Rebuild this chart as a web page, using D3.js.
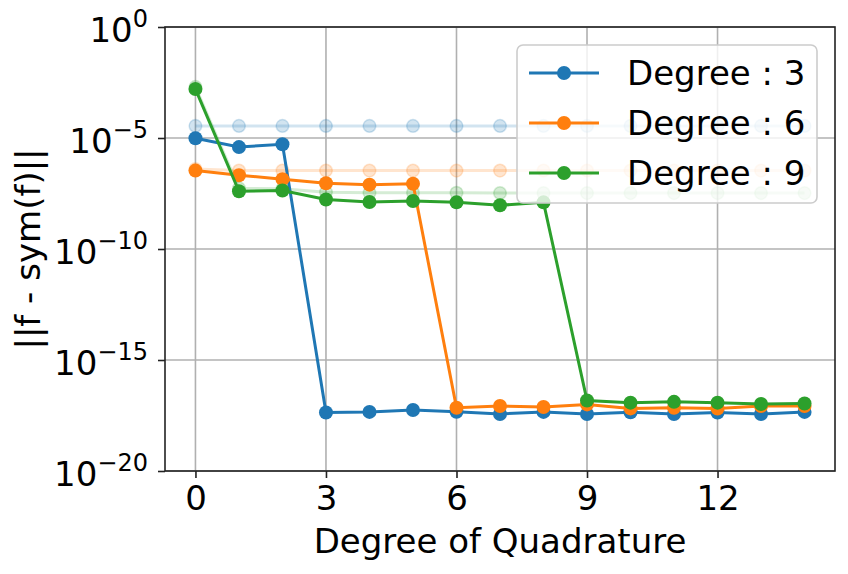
<!DOCTYPE html>
<html lang="en">
<head>
<meta charset="UTF-8">
<title>||f - sym(f)|| vs Degree of Quadrature</title>
<style>
  body { margin: 0; background: #fff; }
  text { font-family: "DejaVu Sans", sans-serif; fill: #000; }
</style>
</head>
<body>
<script src="https://d3js.org/d3.v7.min.js"></script>
<script>
// data
var quadDegrees = [0, 1, 2, 3, 4, 5, 6, 7, 8, 9, 10, 11, 12, 13, 14];
var seriesNames = ["Degree : 3", "Degree : 6", "Degree : 9"];
var seriesColors = ["#1f77b4", "#ff7f0e", "#2ca02c"];

var deg3 = [9.8e-6, 3.9e-6, 5.2e-6, 4.3e-18, 4.6e-18, 5.6e-18, 4.7e-18, 3.7e-18,
            4.6e-18, 3.7e-18, 4.4e-18, 3.7e-18, 4.3e-18, 3.7e-18, 4.6e-18];
var deg6 = [3.4e-7, 2.1e-7, 1.4e-7, 9.1e-8, 7.9e-8, 8.7e-8, 7.1e-18, 8.5e-18,
            7.6e-18, 1.0e-17, 6.6e-18, 7.1e-18, 6.5e-18, 8.5e-18, 8.5e-18];
var deg9 = [1.6e-3, 4.0e-8, 4.3e-8, 1.7e-8, 1.3e-8, 1.45e-8, 1.26e-8, 9.3e-9,
            1.26e-8, 1.5e-17, 1.2e-17, 1.3e-17, 1.2e-17, 1.05e-17, 1.1e-17];

// faint background runs
var deg3Faint = [3.5e-5, 3.5e-5, 3.5e-5, 3.5e-5, 3.5e-5, 3.5e-5, 3.5e-5, 3.5e-5,
                 3.5e-5, 3.5e-5, 3.5e-5, 3.5e-5, 3.5e-5, 3.5e-5, 3.5e-5];
var deg6Faint = [4.0e-7, 3.4e-7, 3.4e-7, 3.4e-7, 3.4e-7, 3.4e-7, 3.4e-7, 3.4e-7,
                 3.4e-7, 3.4e-7, 3.4e-7, 3.4e-7, 3.4e-7, 3.4e-7, 3.4e-7];
var deg9Faint = [2.0e-3, 5.4e-8, 5.2e-8, 3.6e-8, 3.4e-8, 3.4e-8, 3.4e-8, 3.3e-8,
                 3.3e-8, 3.3e-8, 3.3e-8, 3.3e-8, 3.3e-8, 3.3e-8, 3.3e-8];

var xTicks = [0, 3, 6, 9, 12];
var yTickExps = [0, -5, -10, -15, -20];

var solid = [deg3, deg6, deg9];
var faint = [deg3Faint, deg6Faint, deg9Faint];

var w = 848, h = 574;
var padL = 165, padR = 835, padT = 27, padB = 471;
var fs = 34;

var svg = d3.select("body").append("svg")
  .attr("width", w)
  .attr("height", h);

var x = d3.scaleLinear().domain([-0.7, 14.7]).range([padL, padR]);
var y = d3.scaleLog().domain([1e-20, 1]).range([padB, padT]);

// grid
svg.append("g").selectAll("line")
  .data(xTicks).enter().append("line")
  .attr("x1", function(d) { return x(d); })
  .attr("x2", function(d) { return x(d); })
  .attr("y1", padT).attr("y2", padB)
  .attr("stroke", "#b0b0b0").attr("stroke-width", 1.6);

svg.append("g").selectAll("line")
  .data(yTickExps).enter().append("line")
  .attr("x1", padL).attr("x2", padR)
  .attr("y1", function(d) { return y(Math.pow(10, d)); })
  .attr("y2", function(d) { return y(Math.pow(10, d)); })
  .attr("stroke", "#b0b0b0").attr("stroke-width", 1.6);

// axes
var xAxis = d3.axisBottom(x).tickValues(xTicks).tickSize(7).tickPadding(8);
var gx = svg.append("g").attr("transform", "translate(0," + padB + ")").call(xAxis);
gx.select(".domain").remove();
gx.selectAll("line").attr("stroke", "#222").attr("stroke-width", 1.6);
gx.selectAll("text").attr("font-size", fs).attr("font-family", "DejaVu Sans").attr("fill", "#000");

var yAxis = d3.axisLeft(y).tickValues(yTickExps.map(function(e) { return Math.pow(10, e); }))
  .tickSize(7).tickFormat("");
var gy = svg.append("g").attr("transform", "translate(" + padL + ",0)").call(yAxis);
gy.select(".domain").remove();
gy.selectAll("line").attr("stroke", "#222").attr("stroke-width", 1.6);

// y tick labels with superscripts
var ylab = svg.append("g").selectAll("text")
  .data(yTickExps).enter().append("text")
  .attr("text-anchor", "end")
  .attr("x", padL - 17)
  .attr("y", function(d) { return y(Math.pow(10, d)) + 15; })
  .attr("font-size", fs);
ylab.append("tspan").text("10");
ylab.append("tspan")
  .attr("dy", -15)
  .attr("font-size", 24)
  .text(function(d) { return d === 0 ? "0" : "\u2212" + (-d); });

// frame
svg.append("rect")
  .attr("x", padL).attr("y", padT)
  .attr("width", padR - padL).attr("height", padB - padT)
  .attr("fill", "none").attr("stroke", "#222").attr("stroke-width", 1.6);

// axis labels
svg.append("text")
  .attr("x", (padL + padR) / 2).attr("y", 553)
  .attr("text-anchor", "middle")
  .attr("font-size", fs)
  .text("Degree of Quadrature");

svg.append("text")
  .attr("transform", "translate(40," + ((padT + padB) / 2) + ") rotate(-90)")
  .attr("text-anchor", "middle")
  .attr("font-size", fs)
  .text("||f - sym(f)||");

var line = d3.line()
  .x(function(d, i) { return x(quadDegrees[i]); })
  .y(function(d) { return y(d); });

var plot = svg.append("g");

// faint runs first (alpha per element, like matplotlib)
faint.forEach(function(vals, k) {
  var g = plot.append("g");
  g.append("path").datum(vals)
    .attr("d", line).attr("fill", "none")
    .attr("stroke", seriesColors[k]).attr("stroke-opacity", 0.2)
    .attr("stroke-width", 3);
  g.selectAll("circle").data(vals).enter().append("circle")
    .attr("cx", function(d, i) { return x(quadDegrees[i]); })
    .attr("cy", function(d) { return y(d); })
    .attr("r", 6.3)
    .attr("fill", seriesColors[k]).attr("fill-opacity", 0.2)
    .attr("stroke", seriesColors[k]).attr("stroke-opacity", 0.2)
    .attr("stroke-width", 1.5);
});

solid.forEach(function(vals, k) {
  var g = plot.append("g");
  g.append("path").datum(vals)
    .attr("d", line).attr("fill", "none")
    .attr("stroke", seriesColors[k]).attr("stroke-width", 3);
  g.selectAll("circle").data(vals).enter().append("circle")
    .attr("cx", function(d, i) { return x(quadDegrees[i]); })
    .attr("cy", function(d) { return y(d); })
    .attr("r", 7)
    .attr("fill", seriesColors[k]);
});

// legend
var legend = svg.append("g");
legend.append("rect")
  .attr("x", 517).attr("y", 45)
  .attr("width", 300).attr("height", 158)
  .attr("rx", 6).attr("ry", 6)
  .attr("fill", "#fff").attr("fill-opacity", 0.8)
  .attr("stroke", "#cccccc").attr("stroke-width", 1.6);

var rows = legend.selectAll("g.row")
  .data(seriesNames).enter().append("g")
  .attr("class", "row")
  .attr("transform", function(d, i) { return "translate(0," + (73 + i * 50) + ")"; });
rows.append("line")
  .attr("x1", 529).attr("x2", 599)
  .attr("stroke", function(d, i) { return seriesColors[i]; })
  .attr("stroke-width", 3);
rows.append("circle")
  .attr("cx", 564).attr("r", 7)
  .attr("fill", function(d, i) { return seriesColors[i]; });
rows.append("text")
  .attr("x", 627).attr("y", 12)
  .attr("font-size", fs)
  .text(function(d) { return d; });
</script>
</body>
</html>
